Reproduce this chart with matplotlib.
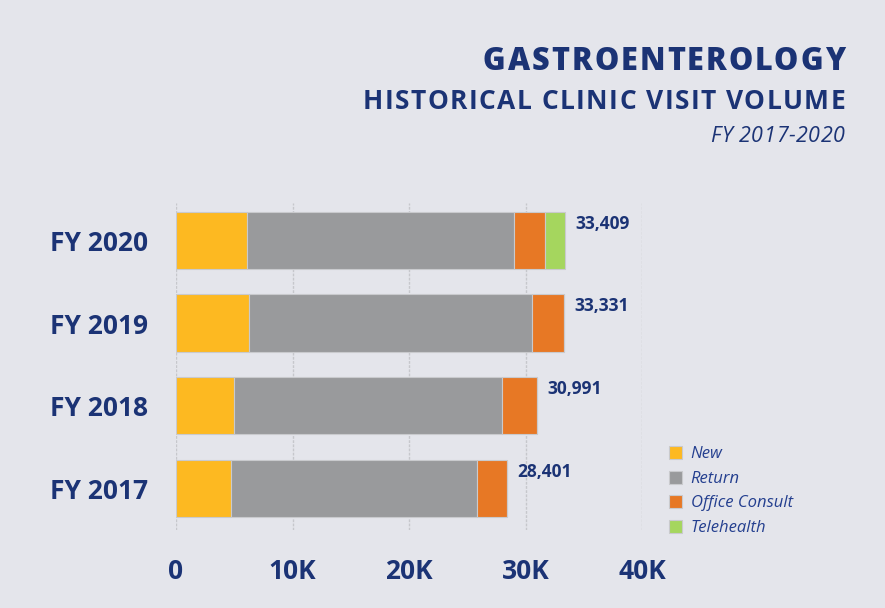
import matplotlib
matplotlib.use("Agg")
import matplotlib.pyplot as plt
import numpy as np

plt.rcParams["font.family"] = ["Open Sans", "DejaVu Sans"]

years = ["FY 2017", "FY 2018", "FY 2019", "FY 2020"]
new = [4720, 5000, 6270, 6100]
ret = [21090, 22980, 24330, 22950]
consult = [2591, 3011, 2731, 2650]
tele = [0, 0, 0, 1709]
totals = [28401, 30991, 33331, 33409]
series = ["New", "Return", "Office Consult", "Telehealth"]
colors = ["#FDB921", "#999A9C", "#E77825", "#A5D65E"]
xticks = [0, 10000, 20000, 30000, 40000]
xlabels = ["0", "10K", "20K", "30K", "40K"]

navy = "#1B3375"
bg = "#E4E5EB"
W, H = 885, 608

fig = plt.figure(figsize=(8.85, 6.08), dpi=100, facecolor=bg)
ax = fig.add_axes([176/W, 1 - 530/H, (642-176)/W, (530-203)/H])
ax.set_facecolor(bg)

y = np.arange(len(years))
left = np.zeros(len(years))
for vals, name, c in zip([new, ret, consult, tele], series, colors):
    vals = np.array(vals)
    ax.barh(y, vals, left=left, height=0.69, color=c, edgecolor="#C9CACD",
            linewidth=0.8, label=name, zorder=3)
    left += vals

for yi, t in zip(y, totals):
    ax.text(t + 900, yi + 0.2, f"{t:,}", color=navy, fontsize=12.5,
            fontweight="bold", va="center", ha="left")

ax.set_xlim(0, 40000)
ax.set_ylim(-0.5, 3.45)
ax.set_xticks(xticks)
ax.set_xticklabels(xlabels)
ax.set_yticks(y)
ax.set_yticklabels(years)
ax.tick_params(axis="x", length=0, pad=20, labelsize=19, labelcolor=navy)
ax.tick_params(axis="y", length=0, pad=20, labelsize=19, labelcolor=navy)
for lab in ax.get_xticklabels() + ax.get_yticklabels():
    lab.set_fontweight("bold")
ax.grid(axis="x", color="#C6C7CC", linestyle=(0, (2, 1)), linewidth=1, zorder=0)
for s in ax.spines.values():
    s.set_visible(False)

leg = ax.legend(loc="lower left", bbox_to_anchor=(1.026, -0.064), frameon=False,
                handlelength=0.8, handleheight=0.8, handletextpad=0.5,
                labelspacing=0.5, fontsize=12, labelcolor="#243F8F")
for t in leg.get_texts():
    t.set_fontstyle("italic")


# right-aligned text spread out to span [left_px, right_px]
def spaced(s, left_px, right_px, base, size, **kw):
    r = fig.canvas.get_renderer()

    def width(txt):
        tmp = fig.text(0, 0, txt, fontsize=size, **kw)
        w = tmp.get_window_extent(r).width
        tmp.remove()
        return w

    spacing = max(0, (right_px - left_px - width(s)) / (len(s) - 1))
    x0 = right_px - width(s) - spacing * (len(s) - 1)
    for i, ch in enumerate(s):
        if ch == " ":
            continue
        xl = x0 + width(s[:i + 1]) - width(ch) + i * spacing
        fig.text(xl / W, 1 - base / H, ch, fontsize=size, ha="left",
                 va="baseline", **kw)


spaced("GASTROENTEROLOGY", 483, 845, 70, 22, fontweight="heavy", color=navy)
spaced("HISTORICAL CLINIC VISIT VOLUME", 363, 845, 109, 19,
       fontweight="bold", color=navy)
spaced("FY 2017-2020", 710, 845, 142, 15.5, fontstyle="italic", color=navy)

fig.savefig("out.png", dpi=100, facecolor=bg)
